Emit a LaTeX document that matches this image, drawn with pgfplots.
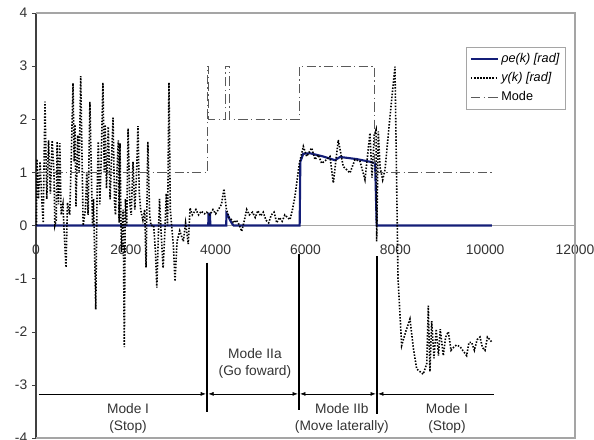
\documentclass[border=0pt]{standalone}
\usepackage{fontspec}
\setmainfont{Liberation Sans}
\usepackage{pgfplots}
\pgfplotsset{compat=1.18}
\usetikzlibrary{arrows.meta}
\definecolor{rhoblue}{RGB}{20,30,120}
\definecolor{framegray}{RGB}{165,165,165}
\definecolor{modegray}{RGB}{90,90,90}

\begin{document}
\begin{tikzpicture}
\begin{axis}[
  at={(0,0)}, anchor=south west,
  scale only axis, width=404.25pt, height=318.75pt,
  xmin=0, xmax=12000, ymin=-4, ymax=4,
  axis x line=middle, axis y line=left,
  axis line style={-},
  x axis line style={framegray, line width=0.8pt},
  y axis line style={black!75, line width=0.8pt},
  hide obscured x ticks=false, hide obscured y ticks=false,
  xtick={0,2000,...,12000}, ytick={-4,-3,...,4},
  scaled x ticks=false,
  /pgf/number format/set thousands separator={},
  /pgf/number format/assume math mode=true,
  tick label style={font=\fontsize{10.4}{12}\selectfont, black!80},
  tick align=outside, major tick length=3pt,
  xtick style={draw=none},
  ytick style={black!75},
  xticklabel style={yshift=-8pt},
  clip=false,
  legend style={at={(0.983,0.92)}, anchor=north east, draw=framegray,
    font=\fontsize{9.5}{11}\selectfont, cells={anchor=west},
    row sep=2pt, inner sep=2.5pt},
  legend image code/.code={\draw[#1] (0pt,0pt) -- (20pt,0pt);},
]
% rho_e(k)
\addplot[rhoblue, line width=1.6pt] coordinates {
(0,0) (3835,0) (3840,0.22) (3875,0.22) (3880,0) (4235,0) (4240,0.23) (4280,0.18)
(4320,0.10) (4370,0.03) (4400,0) (5870,0) (5885,1.2) (5950,1.35) (6100,1.36)
(6390,1.30) (6655,1.23) (6770,1.29) (7140,1.25) (7435,1.20) (7550,1.17) (7585,0)
(10150,0)};
\addlegendentry{\textit{ρe(k) [rad]}}
% y(k)
\addplot[black, line width=1.2pt, dash pattern=on 1.1pt off 1.2pt] coordinates {
(10,0) (20,1.25) (55,0.5) (90,1.2) (125,0.55) (160,0.05)
(200,2.33) (240,0.5) (280,1.6) (320,0.6) (360,1.6) (400,1.0) (420,0.0) (450,0.1)
(470,1.58) (500,0.4) (530,1.55) (560,0.2)
(600,0.4) (620,0.0) (668,-0.79) (700,0.43) (750,0.2) (780,1.1) (824,2.68) (850,1.2)
(870,1.9) (890,0.36) (930,1.7) (960,1.0) (995,2.81) (1030,1.0) (1050,0.0) (1100,0.3)
(1130,1.0) (1160,0.2) (1200,2.33) (1240,0.7) (1260,0.0) (1280,0.5) (1330,-1.58)
(1360,0.6) (1387,1.58) (1420,0.4) (1450,1.2) (1490,2.69) (1520,1.0) (1540,1.9)
(1570,0.7) (1610,1.86) (1650,0.49) (1715,2.03) (1750,0.4) (1770,0.2) (1800,1.0)
(1833,1.6) (1850,0.05) (1870,1.55) (1900,-0.5) (1940,0.3) (1966,-2.29) (1990,0.5)
(2020,0.0) (2050,1.83) (2090,0.4) (2120,0.2) (2160,1.2) (2200,0.3) (2240,1.0)
(2270,1.87) (2300,0.6) (2330,0.3) (2380,0.1) (2420,0.3) (2450,-0.79) (2490,1.58)
(2530,0.2) (2560,0.0) (2620,0.0) (2660,-0.5) (2690,-1.17) (2720,-0.3) (2750,0.5)
(2790,-0.2) (2830,-0.8) (2870,-0.1) (2900,0.6) (2930,0.0) (2960,2.69) (2990,0.3)
(3020,0.0) (3060,-0.4) (3095,-1.05) (3140,-0.3) (3200,-0.1) (3240,-0.2) (3280,-0.3)
(3330,0.05) (3390,-0.35) (3430,0.33) (3480,0.2) (3520,0.25) (3560,0.3) (3620,0.2)
(3680,0.27) (3750,0.22) (3800,0.25) (3870,0.2) (3940,0.3) (4000,0.22) (4060,0.3)
(4130,0.4) (4185,0.69) (4240,0.3) (4300,0.15) (4360,0.1) (4400,0.05) (4460,0.1)
(4520,0.02) (4580,-0.11) (4640,0.1) (4690,0.3) (4750,0.2) (4820,0.25) (4880,0.15)
(4940,0.28) (5000,0.18) (5060,0.25) (5120,0.1) (5180,0.05) (5240,0.2) (5300,0.25)
(5360,0.05) (5420,0.15) (5480,0.08) (5540,0.2) (5600,0.15) (5655,0.11) (5710,0.3)
(5766,0.55) (5820,0.9) (5863,1.17) (5952,1.49) (6026,1.3) (6137,1.46) (6211,1.24)
(6285,1.33) (6360,1.17) (6471,1.24) (6545,1.3) (6619,0.8) (6730,1.61) (6841,1.11)
(6990,0.99) (7101,1.24) (7213,1.21) (7324,0.86) (7435,1.74) (7480,0.9) (7530,1.7)
(7570,1.8) (7584,-0.3) (7621,1.77) (7660,1.1)
(7718,0.86) (7770,1.05) (7881,2.05) (7992,2.99) (8060,-1.0) (8141,-2.26) (8230,-2.0)
(8326,-1.76) (8400,-2.3) (8475,-2.7) (8620,-2.8) (8700,-2.6) (8734,-1.51) (8770,-2.75)
(8810,-1.8) (8860,-2.5) (8910,-1.95) (8960,-2.45) (9000,-1.95) (9068,-2.45) (9120,-2.1)
(9180,-2.0) (9240,-2.35)
(9290,-2.3) (9360,-2.25) (9440,-2.28) (9500,-2.35) (9588,-2.45) (9640,-2.2) (9700,-2.2)
(9760,-2.35) (9820,-2.15) (9885,-2.1) (9940,-2.3) (9996,-2.35) (10050,-2.1)
(10107,-2.15) (10150,-2.2)};
\addlegendentry{\textit{y(k) [rad]}}
% Mode
\addplot[modegray, line width=0.8pt, dash pattern=on 7pt off 2.5pt on 1pt off 2.5pt] coordinates {
(0,1) (3820,1) (3820,3) (3850,3) (3850,2) (4210,2) (4210,3) (4300,3) (4300,2)
(5857,2) (5857,3) (7535,3) (7535,1) (10160,1)};
\addlegendentry{Mode}

% frame
\draw[framegray, line width=0.8pt] (rel axis cs:0,1) -- (rel axis cs:1,1)
  -- (rel axis cs:1,0) -- (rel axis cs:0,0);

% mode annotations
\draw[black, line width=1.2pt] (3810,-0.70) -- (3810,-3.51);
\draw[black, line width=1.2pt] (5855,-0.54) -- (5855,-3.48);
\draw[black, line width=1.2pt] (7591,-0.58) -- (7591,-3.55);
\draw[-{Latex[length=4pt,width=3pt]}, line width=0.5pt] (60,-3.17) -- (3785,-3.17);
\draw[{Latex[length=4pt,width=3pt]}-{Latex[length=4pt,width=3pt]}, line width=0.5pt]
  (3835,-3.17) -- (5830,-3.17);
\draw[{Latex[length=4pt,width=3pt]}-{Latex[length=4pt,width=3pt]}, line width=0.5pt]
  (5880,-3.17) -- (7566,-3.17);
\draw[{Latex[length=4pt,width=3pt]}-, line width=0.5pt] (7616,-3.17) -- (10200,-3.17);

\node[align=center, font=\fontsize{10.3}{12.75}\selectfont, black!80] at (2050,-3.63) {Mode I\\(Stop)};
\node[align=center, font=\fontsize{10.3}{12.75}\selectfont, black!80] at (4875,-2.60) {Mode IIa\\(Go foward)};
\node[align=center, font=\fontsize{10.3}{12.75}\selectfont, black!80] at (6810,-3.63) {Mode IIb\\(Move laterally)};
\node[align=center, font=\fontsize{10.3}{12.75}\selectfont, black!80] at (9150,-3.63) {Mode I\\(Stop)};
\end{axis}
\pgfresetboundingbox
\path[use as bounding box] (-27pt,-1.5pt) rectangle (418.5pt,328.5pt);
\end{tikzpicture}
\end{document}
